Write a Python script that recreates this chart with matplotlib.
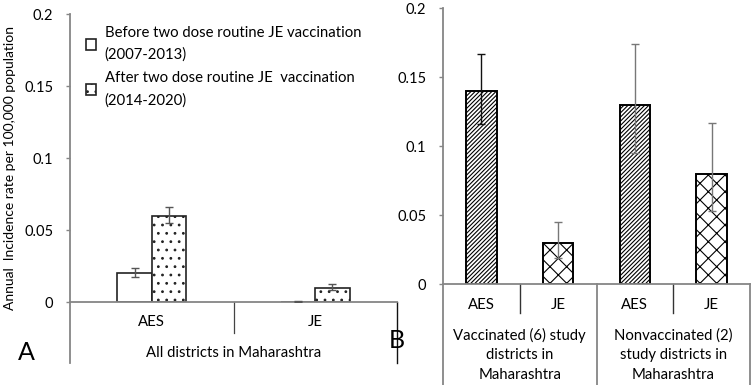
import numpy as np
import matplotlib.pyplot as plt

plt.rcParams['font.family'] = ['Lato', 'DejaVu Sans']
plt.rcParams['hatch.linewidth'] = 0.8

# ------------------------------------------------------------
# Panel A data
# ------------------------------------------------------------
a_categories = ["AES", "JE"]
a_before = [0.020, 0.0003]
a_before_err_lo = [0.0026, 0.0002]
a_before_err_hi = [0.0036, 0.0002]
a_after = [0.060, 0.010]
a_after_err_lo = [0.0052, 0.0017]
a_after_err_hi = [0.0058, 0.0025]
a_group = "All districts in Maharashtra"
a_legend = ["Before two dose routine JE vaccination\n(2007-2013)",
            "After two dose routine JE  vaccination\n(2014-2020)"]

# ------------------------------------------------------------
# Panel B data
# ------------------------------------------------------------
b_categories = ["AES", "JE", "AES", "JE"]
b_values = [0.14, 0.03, 0.13, 0.08]
b_err_lo = [0.024, 0.011, 0.035, 0.027]
b_err_hi = [0.027, 0.015, 0.044, 0.037]
b_groups = [["Vaccinated (6) study", "districts in", "Maharashtra"],
            ["Nonvaccinated (2)", "study districts in", "Maharashtra"]]

yticks = [0, 0.05, 0.1, 0.15, 0.2]
ytick_labels = ["0", "0.05", "0.1", "0.15", "0.2"]
ylabel = "Annual  Incidence rate per 100,000 population"

# ------------------------------------------------------------
# Figure
# ------------------------------------------------------------
W, H = 751, 385
fig = plt.figure(figsize=(W / 100, H / 100), dpi=100)
AXIS_GREY = "#868686"
FS = 10.7
TICK_FS = 10.5
LS = 1.68


def px_axes(x0, x1, ytop, ybot):
    return fig.add_axes([x0 / W, 1 - ybot / H, (x1 - x0) / W, (ybot - ytop) / H])


def style_axis(ax):
    for s in ["top", "right"]:
        ax.spines[s].set_visible(False)
    for s in ["left", "bottom"]:
        ax.spines[s].set_color(AXIS_GREY)
        ax.spines[s].set_linewidth(1.3)
    ax.set_ylim(0, 0.2)
    ax.set_yticks(yticks)
    ax.set_yticklabels(ytick_labels, fontsize=TICK_FS)
    ax.tick_params(axis="y", direction="out", length=3, width=1, color=AXIS_GREY, pad=9)
    ax.set_xticks([])


# Panel A -----------------------------------------------------
axA = px_axes(70, 397, 14, 302)
style_axis(axA)
axA.set_xlim(0, 2)
pxA = 288 / 0.2
xa = np.arange(len(a_categories)) + 0.5
bw = 0.21
b1 = axA.bar(xa - bw / 2, a_before, bw, color="white", edgecolor="#222222", linewidth=1.2, zorder=2)
b2 = axA.bar(xa + bw / 2, a_after, bw, color="white", edgecolor="#222222", linewidth=1.2,
             hatch="..", zorder=2)
axA.errorbar(xa - bw / 2, a_before, yerr=[a_before_err_lo, a_before_err_hi], fmt="none",
             ecolor="#555555", elinewidth=1, capsize=2.6, capthick=1, zorder=3)
axA.errorbar(xa + bw / 2, a_after, yerr=[a_after_err_lo, a_after_err_hi], fmt="none",
             ecolor="#555555", elinewidth=1, capsize=2.6, capthick=1, zorder=3)

axA.plot([0, 0], [0, -61 / pxA], color=AXIS_GREY, lw=1.3, clip_on=False)
axA.plot([1, 1], [0, -31 / pxA], color="#444444", lw=0.9, clip_on=False)
axA.plot([2, 2], [0, -61 / pxA], color="#111111", lw=1.0, clip_on=False)
for x, lab in zip(xa, a_categories):
    axA.text(x, -20 / pxA, lab, ha="center", va="center", fontsize=FS, clip_on=False)
axA.text(1, -51 / pxA, a_group, ha="center", va="center", fontsize=FS, clip_on=False)

leg = axA.legend([b1, b2], a_legend, loc="upper left", bbox_to_anchor=(86 / W, 1 - 26 / H),
                 bbox_transform=fig.transFigure, frameon=False, fontsize=FS,
                 handlelength=0.7, handleheight=0.7, handletextpad=0.55, labelspacing=0.62,
                 borderpad=0, borderaxespad=0)
for t in leg.get_texts():
    t.set_linespacing(LS)

# Panel B -----------------------------------------------------
axB = px_axes(443, 750, 8.3, 284.3)
style_axis(axB)
axB.set_xlim(0, 4)
pxB = 276 / 0.2
xb = np.arange(len(b_categories)) + 0.5
hatches = ["////////", "xx", "////////", "xx"]
ecolors = ["#111111", "#777777", "#777777", "#777777"]
bars = axB.bar(xb, b_values, 0.4, color="white", edgecolor="black", linewidth=1.4, zorder=2)
for bar, h in zip(bars, hatches):
    bar.set_hatch(h)
for i in range(len(xb)):
    axB.errorbar(xb[i], b_values[i], yerr=[[b_err_lo[i]], [b_err_hi[i]]], fmt="none",
                 ecolor=ecolors[i], elinewidth=1, capsize=3, capthick=1, zorder=3)

axB.plot([0, 0], [0, -101 / pxB], color=AXIS_GREY, lw=1.3, clip_on=False)
for x, depth in zip([1, 2, 3, 4], [29, 101, 29, 101]):
    axB.plot([x, x], [0, -depth / pxB], color="#333333" if depth < 50 else AXIS_GREY,
             lw=1.0 if depth < 50 else 1.3, clip_on=False)
for x, lab in zip(xb, b_categories):
    axB.text(x, -21 / pxB, lab, ha="center", va="center", fontsize=FS, clip_on=False)
for x, lines in zip([1, 3], b_groups):
    for k, line in enumerate(lines):
        axB.text(x, -(51 + 20 * k) / pxB, line, ha="center", va="center",
                 fontsize=FS, clip_on=False)

# Labels ------------------------------------------------------
fig.text(10 / W, 1 - 168 / H, ylabel, rotation=90, ha="center", va="center", fontsize=10)
fig.text(26 / W, 1 - 352 / H, "A", ha="center", va="center", fontsize=18)
fig.text(397 / W, 1 - 340 / H, "B", ha="center", va="center", fontsize=18)

fig.savefig("out.png", dpi=100)
